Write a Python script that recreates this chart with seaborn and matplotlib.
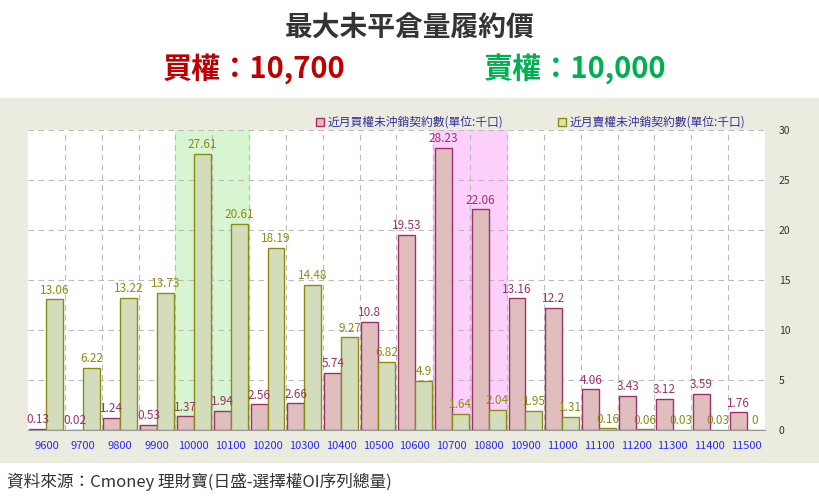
import matplotlib

matplotlib.use("Agg")
import matplotlib.pyplot as plt
import numpy as np
import pandas as pd
import seaborn as sns
from matplotlib.patches import Rectangle

plt.rcParams["font.family"] = ["Noto Sans CJK JP", "Noto Sans CJK TC", "DejaVu Sans"]

strikes = ["9600", "9700", "9800", "9900", "10000", "10100", "10200", "10300", "10400", "10500",
           "10600", "10700", "10800", "10900", "11000", "11100", "11200", "11300", "11400", "11500"]
call_oi = [0.13, 0.02, 1.24, 0.53, 1.37, 1.94, 2.56, 2.66, 5.74, 10.8,
           19.53, 28.23, 22.06, 13.16, 12.2, 4.06, 3.43, 3.12, 3.59, 1.76]
put_oi = [13.06, 6.22, 13.22, 13.73, 27.61, 20.61, 18.19, 14.48, 9.27, 6.82,
          4.9, 1.64, 2.04, 1.95, 1.31, 0.16, 0.06, 0.03, 0.03, 0]
call_name = "近月買權未沖銷契約數(單位:千口)"
put_name = "近月賣權未沖銷契約數(單位:千口)"

df = pd.DataFrame({
    "strike": strikes * 2,
    "oi": call_oi + put_oi,
    "series": [call_name] * len(strikes) + [put_name] * len(strikes),
})

fig = plt.figure(figsize=(8.2, 4.98), dpi=100)
bg = fig.add_axes([0, 35 / 498, 1, 365 / 498], zorder=-5)
bg.set_facecolor("#ecebe0")
bg.set_xticks([])
bg.set_yticks([])
for s in bg.spines.values():
    s.set_visible(False)

ax = fig.add_axes([28 / 820, 68 / 498, 737 / 820, 300 / 498], zorder=1)
ax.set_facecolor("white")

# highlight bands
ax.axvspan(3.5, 5.5, color="#d6f5d0", zorder=0)
ax.axvspan(10.5, 12.5, color="#fdd0fc", zorder=0)

sns.barplot(data=df, x="strike", y="oi", hue="series", ax=ax, width=0.92,
            palette=["#e6b8b8", "#d6e3b5"], legend=False, zorder=2)
edge = {0: "#a0306a", 1: "#8c8c10"}
for i, cont in enumerate(ax.containers):
    for p in cont.patches:
        p.set_edgecolor(edge[i])
        p.set_linewidth(1)
    labels = [f"{v:g}" for v in (call_oi if i == 0 else put_oi)]
    ax.bar_label(cont, labels=labels, fontsize=8.5,
                 color="#a0306a" if i == 0 else "#8c8c10", padding=2)

ax.set_xlim(-0.5, len(strikes) - 0.5)
ax.set_ylim(0, 30)
ax.yaxis.tick_right()
ax.set_yticks(range(0, 31, 5))
ax.tick_params(axis="y", labelsize=7.5, length=0, colors="#333333", pad=10)
ax.tick_params(axis="x", labelsize=8, length=0, colors="#2a2aff", pad=8)
for x in np.arange(0.5, len(strikes) - 0.5):
    ax.axvline(x, color="#bbbbbb", ls=(0, (5, 4)), lw=0.8, zorder=1)
for y in range(5, 31, 5):
    ax.axhline(y, color="#bbbbbb", ls=(0, (5, 4)), lw=0.8, zorder=1)
ax.set_xlabel("")
ax.set_ylabel("")
for s in ["top", "right", "left"]:
    ax.spines[s].set_visible(False)
ax.spines["bottom"].set_color("#999999")

# legend
for x0, name, fc, ec in [(0.385, call_name, "#e6b8b8", "#a0306a"),
                         (0.68, put_name, "#d6e3b5", "#8c8c10")]:
    fig.patches.append(Rectangle((x0, 372 / 498), 8 / 820, 8 / 498, transform=fig.transFigure,
                                 facecolor=fc, edgecolor=ec, lw=1, zorder=5))
    fig.text(x0 + 12 / 820, 376 / 498, name, fontsize=8.5, color="#333399", va="center", zorder=5)

fig.text(0.5, 0.945, "最大未平倉量履約價", ha="center", va="center", fontsize=20,
         fontweight="bold", color="#333333")
fig.text(0.31, 0.86, "買權：10,700", ha="center", va="center", fontsize=21,
         fontweight="bold", color="#c00000")
fig.text(0.70, 0.86, "賣權：10,000", ha="center", va="center", fontsize=21,
         fontweight="bold", color="#00b050")
fig.text(0.008, 0.033, "資料來源：Cmoney 理財寶(日盛-選擇權OI序列總量)", ha="left", va="center",
         fontsize=12, color="#333333")

fig.savefig("out.png", dpi=100)
